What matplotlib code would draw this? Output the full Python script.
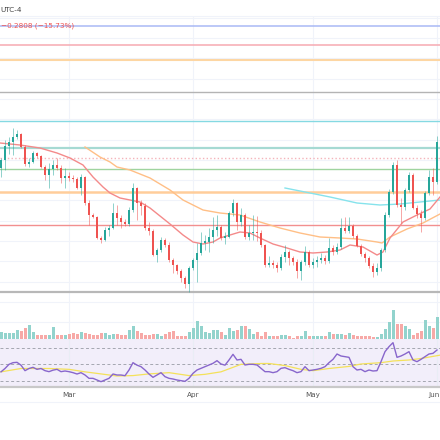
import numpy as np
import matplotlib
matplotlib.use("Agg")
import matplotlib.pyplot as plt
from matplotlib.lines import Line2D

# day index: 0 = Mar 1
days = list(range(-17, 93))

opens = [2.32, 2.40, 2.54, 2.58, 2.63, 2.66, 2.53, 2.36, 2.38, 2.47,
         2.44, 2.33, 2.25, 2.31, 2.35, 2.32, 2.22, 2.24, 2.22, 2.21,
         2.12, 2.23, 1.97, 1.85, 1.83, 1.62, 1.60, 1.70, 1.72, 1.87,
         1.82, 1.78, 1.76, 1.90, 2.12, 1.97, 1.94, 1.72, 1.69, 1.45,
         1.50, 1.60, 1.55, 1.40, 1.35, 1.29, 1.22, 1.16, 1.32, 1.40,
         1.47, 1.57, 1.58, 1.63, 1.70, 1.73, 1.62, 1.63, 1.87, 1.97,
         1.78, 1.85, 1.63, 1.67, 1.68, 1.67, 1.55, 1.35, 1.37, 1.35,
         1.32, 1.43, 1.48, 1.42, 1.38, 1.29, 1.38, 1.48, 1.35, 1.38,
         1.40, 1.42, 1.39, 1.52, 1.48, 1.53, 1.72, 1.69, 1.74, 1.64,
         1.54, 1.46, 1.42, 1.34, 1.28, 1.32, 1.50, 1.85, 2.08, 2.35,
         1.95, 1.93, 2.10, 2.25, 1.92, 1.86, 1.82, 2.07, 2.23, 2.18]
highs = [2.42, 2.60, 2.63, 2.72, 2.70, 2.67, 2.55, 2.42, 2.49, 2.48,
         2.45, 2.35, 2.37, 2.40, 2.42, 2.35, 2.32, 2.28, 2.25, 2.23,
         2.26, 2.24, 2.00, 1.87, 1.84, 1.64, 1.73, 1.75, 1.97, 1.95,
         1.85, 1.81, 1.93, 2.17, 2.13, 2.00, 1.97, 1.78, 1.71, 1.52,
         1.63, 1.62, 1.58, 1.42, 1.36, 1.31, 1.24, 1.34, 1.42, 1.57,
         1.68, 1.65, 1.72, 1.83, 1.85, 1.75, 1.68, 1.89, 2.01, 1.98,
         1.92, 1.87, 1.75, 1.85, 1.84, 1.70, 1.56, 1.44, 1.40, 1.38,
         1.46, 1.55, 1.50, 1.44, 1.41, 1.40, 1.54, 1.50, 1.42, 1.44,
         1.47, 1.45, 1.62, 1.55, 1.57, 1.82, 1.83, 1.83, 1.76, 1.66,
         1.56, 1.48, 1.44, 1.37, 1.37, 1.52, 1.88, 2.11, 2.38, 2.40,
         2.02, 2.12, 2.28, 2.27, 1.95, 1.90, 2.09, 2.30, 2.32, 2.64]
lows = [2.23, 2.30, 2.46, 2.45, 2.61, 2.52, 2.34, 2.33, 2.37, 2.42,
        2.32, 2.20, 2.12, 2.25, 2.30, 2.17, 2.12, 2.19, 2.18, 2.11,
        2.05, 1.95, 1.75, 1.82, 1.61, 1.57, 1.59, 1.64, 1.71, 1.75,
        1.72, 1.74, 1.74, 1.88, 1.80, 1.85, 1.70, 1.65, 1.44, 1.38,
        1.48, 1.53, 1.38, 1.27, 1.26, 1.18, 1.12, 1.08, 1.30, 1.18,
        1.45, 1.50, 1.48, 1.57, 1.64, 1.60, 1.56, 1.62, 1.84, 1.70,
        1.74, 1.61, 1.60, 1.60, 1.59, 1.53, 1.33, 1.33, 1.32, 1.28,
        1.30, 1.38, 1.35, 1.35, 1.22, 1.20, 1.35, 1.33, 1.32, 1.33,
        1.37, 1.36, 1.37, 1.45, 1.46, 1.51, 1.67, 1.67, 1.62, 1.53,
        1.44, 1.38, 1.32, 1.23, 1.25, 1.29, 1.48, 1.83, 2.06, 1.93,
        1.77, 1.90, 2.08, 1.91, 1.82, 1.68, 1.80, 2.05, 2.05, 2.16]
closes = [2.40, 2.54, 2.58, 2.63, 2.66, 2.53, 2.36, 2.38, 2.47, 2.44,
          2.33, 2.25, 2.31, 2.35, 2.32, 2.22, 2.24, 2.22, 2.21, 2.12,
          2.23, 1.97, 1.85, 1.83, 1.62, 1.60, 1.70, 1.72, 1.87, 1.82,
          1.78, 1.76, 1.90, 2.12, 1.97, 1.94, 1.72, 1.69, 1.45, 1.50,
          1.60, 1.55, 1.40, 1.35, 1.29, 1.22, 1.16, 1.32, 1.40, 1.47,
          1.57, 1.58, 1.63, 1.70, 1.73, 1.62, 1.63, 1.87, 1.97, 1.78,
          1.85, 1.63, 1.67, 1.68, 1.67, 1.55, 1.35, 1.37, 1.35, 1.32,
          1.43, 1.48, 1.42, 1.38, 1.29, 1.38, 1.48, 1.35, 1.38, 1.40,
          1.42, 1.39, 1.52, 1.48, 1.53, 1.72, 1.69, 1.74, 1.64, 1.54,
          1.46, 1.42, 1.34, 1.28, 1.32, 1.50, 1.85, 2.08, 2.35, 1.95,
          1.93, 2.10, 2.25, 1.92, 1.86, 1.82, 2.07, 2.23, 2.18, 2.58]
volumes = [6.6, 6, 6, 6, 9.3, 8.3, 11, 14.3, 7, 3.6,
           3.6, 3.6, 3.6, 12, 3.6, 3.6, 3.6, 5, 6, 5,
           6.6, 6, 5, 3.6, 4.3, 6, 6, 4.3, 5, 5.3,
           3.6, 3.6, 9.3, 12.6, 8.3, 6, 3.6, 4.3, 5, 5,
           3, 5, 6.6, 8.3, 3, 3.3, 3.3, 6.6, 11, 17.6,
           13.3, 6.6, 6, 9.3, 8.6, 7, 4.3, 11, 8.3, 9.3,
           13.3, 13.3, 10, 5, 7, 2.6, 6.6, 2.6, 2.6, 2.6,
           4.3, 4.3, 2.6, 1, 2.6, 3.3, 7.6, 2.6, 2.6, 2.6,
           3.3, 2.6, 6.6, 5.3, 5.3, 5, 4.3, 6, 4.3, 3.3,
           2.6, 3.3, 3.3, 2, 2, 5.3, 10, 16.6, 29.3, 15.3,
           15.3, 13.3, 10, 4.3, 6, 7.6, 19.3, 13.3, 11, 22]
rsi = [41, 45, 50, 52, 52.4, 49, 42.4, 45, 46.4, 44,
       45, 42.4, 41.2, 43, 44, 41.2, 42, 41.2, 40, 38.4,
       40, 37.2, 33.2, 33.2, 31.2, 29.2, 31.2, 33.2, 38.4, 37.2,
       37.2, 36.4, 43.2, 52, 49, 47.2, 43.2, 38.4, 34.4, 37.2,
       40, 35.2, 33.2, 32.4, 31.2, 30.4, 29.6, 33.2, 39.2, 43.2,
       45.2, 47.2, 49.2, 51.2, 54.4, 50.4, 49, 55.2, 62, 55.2,
       56, 49.2, 50, 50, 49.2, 45.2, 41.2, 41.2, 40, 41.2,
       45.2, 46, 44, 42.4, 40, 41.2, 47.2, 42.4, 43.2, 44,
       45.2, 47.2, 52, 56, 62.4, 60, 59.2, 58.4, 47.2, 43.2,
       44, 41.2, 43.2, 42, 42.4, 53.2, 65.2, 71.2, 76, 58.4,
       60, 62.4, 65.2, 55.2, 53.2, 56, 59.2, 62.4, 63.2, 67.2]

# moving averages read at sample days
ma_fast_days = [-17.25, -12.25, -7.25, -3, 0.25, 3.5, 6, 8.5, 10.25, 12.75, 15.25, 17.75,
                20.25, 22.75, 25.25, 28.5, 31, 33.5, 36, 37.75, 40.25, 42.75, 45.25,
                47.75, 51, 54.5, 57.75, 61, 64.5, 67.75, 70.25, 73.5, 77, 78.5, 80.25,
                83.5, 87, 90.25, 92.75]
ma_fast = [2.57, 2.55, 2.52, 2.47, 2.42, 2.35, 2.23, 2.13, 2.07, 2.02, 2.00, 1.98,
           1.92, 1.84, 1.76, 1.65, 1.58, 1.56, 1.58, 1.62, 1.65, 1.68, 1.67,
           1.62, 1.56, 1.52, 1.48, 1.47, 1.48, 1.50, 1.55, 1.53, 1.45, 1.48, 1.62,
           1.78, 1.85, 1.91, 2.03]
ma_mid_days = [4, 7.75, 10.25, 12, 15.25, 20.25, 25.25, 28.5, 33.5, 37.75, 42.75, 47.75,
               52.75, 57.75, 62.75, 67.75, 72, 77, 78.25, 80.25, 84.5, 88.5, 92.75]
ma_mid = [2.53, 2.43, 2.38, 2.33, 2.30, 2.22, 2.10, 2.00, 1.90, 1.87, 1.85, 1.78,
          1.72, 1.67, 1.63, 1.62, 1.61, 1.58, 1.57, 1.63, 1.71, 1.77, 1.86]
ma_slow_days = [54, 57.75, 65.25, 72, 77.75, 82.75, 87.75, 92.75]
ma_slow = [2.12, 2.09, 2.03, 1.97, 1.95, 1.96, 1.98, 2.00]

rsi_ma_days = [-17, -12, -5, 0, 4, 8, 12, 16, 20, 25, 30, 34, 38, 43, 48, 50, 54, 58,
               61, 65, 70, 73, 78, 81, 85, 88, 92.75]
rsi_ma = [41, 45, 45, 44, 41, 38.5, 36, 36.5, 38.5, 40, 36.5, 38, 41, 50, 51, 51, 48.5, 44,
          42.4, 45, 47.5, 50.4, 52, 54, 55.2, 57, 61]

# horizontal levels
levels = [3.743, 3.55, 3.40, 3.08, 2.787, 2.523, 2.423, 2.313, 2.083, 1.753, 1.077]
level_colors = ["#a9b9f5", "#f6aab2", "#fdd6a3", "#b4b4b4", "#85d9e2", "#a6dad3",
                "#f4b3ba", "#9fd49f", "#ffcd9a", "#f28f8f", "#b8b8b8"]
level_styles = ["-", "-", "-", "-", "-", "-", ":", "-", "-", "-", "-"]
level_widths = [1.1, 1.1, 1.5, 1.0, 1.0, 1.6, 1.0, 1.0, 1.8, 1.0, 1.6]

month_days = [0, 31, 61, 92]
month_labels = ["Mar", "Apr", "May", "Jun"]

W = 440.0
def fx(top, bottom):
    return [0, 1 - bottom / W, 1, (bottom - top) / W]

up_c, dn_c = "#26a69a", "#ef5350"
grid_c = "#f0f3fa"
xlim = (-17.25, 92.75)

fig = plt.figure(figsize=(4.4, 4.4), dpi=100)
fig.patch.set_facecolor("white")

ax = fig.add_axes(fx(16, 339))
axv = fig.add_axes(fx(300, 339))
axr = fig.add_axes(fx(339, 386))
for a in (ax, axv, axr):
    a.set_xlim(*xlim)
    for s in a.spines.values():
        s.set_visible(False)
    a.set_yticks([])
axv.patch.set_alpha(0)
ax.set_xticks([])
axv.set_xticks([])

# price pane
ax.set_ylim(0.61, 3.84)
for g in np.arange(0.777, 3.9, 0.203):
    ax.axhline(g, color=grid_c, lw=0.8, zorder=0)
for m in month_days:
    ax.axvline(m, color=grid_c, lw=0.8, zorder=0)
    axr.axvline(m, color="#e9edf5", lw=0.8, zorder=1)

for lv, c, ls, lw in zip(levels, level_colors, level_styles, level_widths):
    ax.axhline(lv, color=c, ls=ls, lw=lw, zorder=1)

ax.plot(ma_slow_days, ma_slow, color="#86e3ec", lw=1.0, zorder=2)
ax.plot(ma_mid_days, ma_mid, color="#ffbf86", lw=1.0, zorder=2)
ax.plot(ma_fast_days, ma_fast, color="#f48a8a", lw=1.0, zorder=2)

for d, o, h, l, c in zip(days, opens, highs, lows, closes):
    col = up_c if c >= o else dn_c
    ax.vlines(d, l, h, color=col, lw=0.6, alpha=0.6, zorder=3)
    ax.bar(d, max(abs(c - o), 0.015), bottom=min(o, c), width=0.72,
           color=col, lw=0, zorder=4)

# volume
vcols = ["#92d3cd" if c >= o else "#f7a9a7" for o, c in zip(opens, closes)]
axv.bar(days, volumes, width=0.75, color=vcols, lw=0)
axv.set_ylim(0, 39)

# RSI pane
axr.set_ylim(24, 80.4)
axr.axhspan(24, 80.4, color="#f2eefa", zorder=0)
for lv in (70, 50, 30):
    axr.axhline(lv, color="#a4a6b0", ls=(0, (3, 2.5)), lw=0.7, zorder=1)
axr.plot(rsi_ma_days, rsi_ma, color="#f4e15a", lw=0.9, zorder=2)
axr.plot(days, rsi, color="#8866cc", lw=1.0, zorder=3)
axr.set_xticks(month_days[:3])
axr.set_xticklabels(month_labels[:3], fontsize=5.2, color="#555555")
axr.tick_params(axis="x", length=0, pad=4.5)
# last month label sits at the right edge, kept inside the figure
axr.annotate(month_labels[3], xy=(1, 0), xycoords="axes fraction",
             xytext=(-0.5, -4.5), textcoords="offset points",
             ha="right", va="top", fontsize=5.2, color="#555555")

# separators
fig.add_artist(Line2D([0, 1], [1 - 386.5 / W] * 2, color="#c9c9c9", lw=1.6))
fig.add_artist(Line2D([0, 1], [1 - 402 / W] * 2, color=grid_c, lw=0.8))
fig.add_artist(Line2D([0, 1], [1 - 16 / W] * 2, color=grid_c, lw=0.8))

fig.text(0.0, 1 - 10 / W, "UTC-4", fontsize=5.2, color="#444444", va="center", ha="left")
fig.text(1 / W, 1 - 25.5 / W, "\u22120.2808 (\u221215.73%)", fontsize=5.2,
         color="#ef5350", va="center", ha="left")

fig.savefig("out.png", dpi=100)
